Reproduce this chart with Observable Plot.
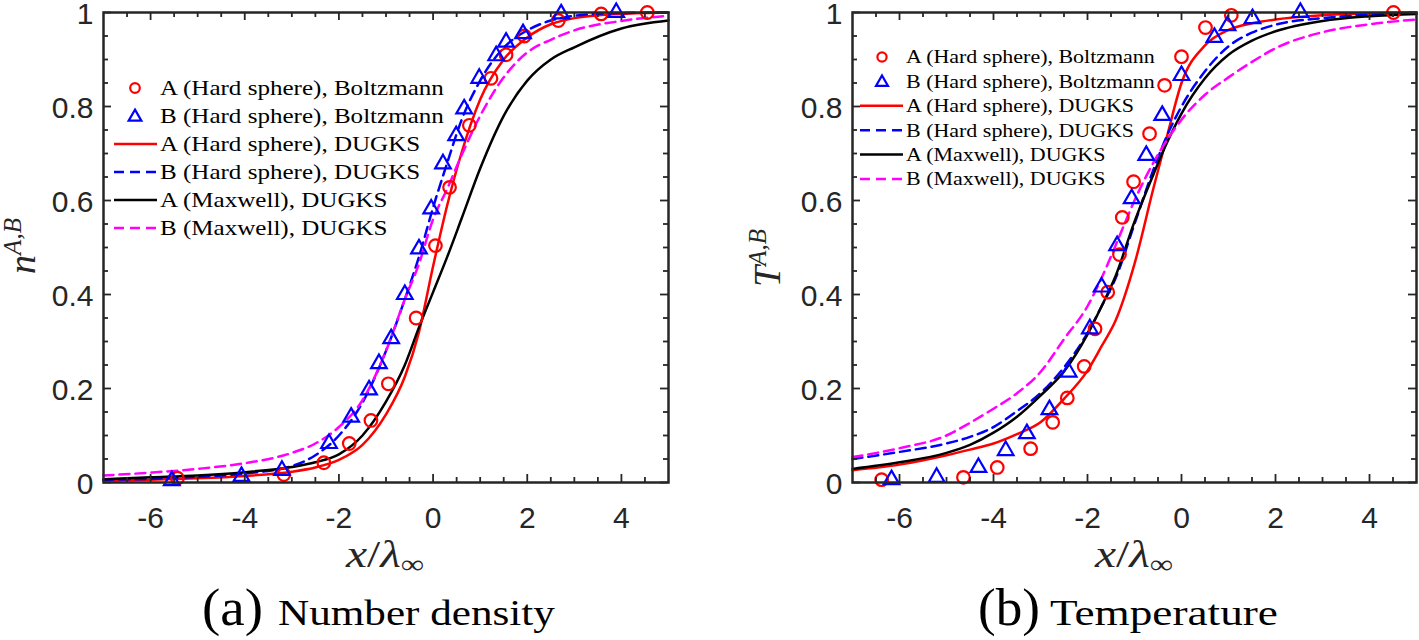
<!DOCTYPE html>
<html><head><meta charset="utf-8">
<script src="https://cdn.jsdelivr.net/npm/d3@7"></script>
<script src="https://cdn.jsdelivr.net/npm/@observablehq/plot@0.6"></script>
<style>
html,body{margin:0;padding:0;background:#fff;}
#page{position:relative;width:1419px;height:640px;overflow:hidden;background:#fff;}
#left{position:absolute;left:0;top:0;}
#right{position:absolute;left:710px;top:0;}
#overlay{position:absolute;left:0;top:0;}
</style></head>
<body><div id="page"><div id="left"></div><div id="right"></div><svg id="overlay" width="1419" height="640"></svg></div>
<script>
// ---------- tick labels ----------
const xMajor = [-6, -4, -2, 0, 2, 4];
const yMajor = [0, 0.2, 0.4, 0.6, 0.8, 1];
const xDomain = [-7, 5];
const yDomain = [0, 1];

// ---------- legend ----------
const legendLabels = ["A (Hard sphere), Boltzmann", "B (Hard sphere), Boltzmann", "A (Hard sphere), DUGKS",
  "B (Hard sphere), DUGKS", "A (Maxwell), DUGKS", "B (Maxwell), DUGKS"];

// ---------- (a) number density ----------
const nCircX = [-5.43, -3.17, -2.32, -1.78, -1.32, -0.95, -0.36, 0.05, 0.35, 0.77, 1.23, 1.55, 1.94, 2.66, 3.57, 4.55];
const nCircY = [0.009, 0.017, 0.042, 0.083, 0.132, 0.21, 0.35, 0.504, 0.628, 0.76, 0.86, 0.91, 0.95, 0.983, 0.997, 1.0];
const nTriX = [-5.55, -4.07, -3.21, -2.21, -1.74, -1.36, -1.15, -0.89, -0.6, -0.3, -0.04, 0.21, 0.49, 0.66, 0.98, 1.34, 1.55, 1.91, 2.72, 3.89];
const nTriY = [0.004, 0.013, 0.026, 0.083, 0.139, 0.197, 0.253, 0.306, 0.40, 0.497, 0.582, 0.678, 0.738, 0.795, 0.86, 0.908, 0.937, 0.955, 0.997, 1.0];
const nLineX = [-7, -6, -5, -4, -3, -2.5, -2, -1.5, -1, -0.6, -0.3, 0, 0.3, 0.6, 1, 1.5, 2, 2.5, 3, 4, 5];
const nA_HS = [0.004, 0.006, 0.009, 0.014, 0.023, 0.032, 0.048, 0.08, 0.145, 0.225, 0.32, 0.46, 0.59, 0.7, 0.815, 0.9, 0.947, 0.975, 0.988, 0.997, 1.0];
const nB_HS = [0.006, 0.008, 0.012, 0.019, 0.035, 0.058, 0.1, 0.17, 0.28, 0.39, 0.48, 0.585, 0.68, 0.77, 0.855, 0.925, 0.962, 0.983, 0.993, 0.999, 1.0];
const nA_MX = [0.007, 0.011, 0.015, 0.022, 0.033, 0.043, 0.06, 0.1, 0.172, 0.25, 0.33, 0.405, 0.48, 0.56, 0.668, 0.78, 0.855, 0.9, 0.926, 0.966, 0.983];
const nB_MX = [0.015, 0.021, 0.029, 0.041, 0.063, 0.083, 0.118, 0.175, 0.28, 0.39, 0.465, 0.56, 0.625, 0.695, 0.78, 0.862, 0.915, 0.942, 0.962, 0.982, 0.993];

// ---------- (b) temperature ----------
const tCircX = [-6.38, -4.64, -3.92, -3.21, -2.74, -2.43, -2.07, -1.84, -1.57, -1.32, -1.26, -1.02, -0.68, -0.36, 0, 0.51, 1.06, 4.51];
const tCircY = [0.006, 0.011, 0.032, 0.072, 0.128, 0.18, 0.247, 0.327, 0.405, 0.485, 0.564, 0.64, 0.742, 0.845, 0.906, 0.968, 0.994, 1.0];
const tTriX = [-6.17, -5.21, -4.32, -3.74, -3.29, -2.81, -2.4, -1.95, -1.7, -1.37, -1.06, -0.75, -0.41, 0, 0.70, 0.98, 1.51, 2.53];
const tTriY = [0.006, 0.011, 0.032, 0.068, 0.104, 0.155, 0.235, 0.327, 0.416, 0.504, 0.604, 0.696, 0.781, 0.866, 0.947, 0.972, 0.987, 1.0];
const tLineX = [-7, -6, -5, -4.5, -4, -3.5, -3, -2.5, -2, -1.7, -1.4, -1, -0.6, -0.3, 0, 0.5, 1, 1.5, 2, 3, 4, 5];
const tA_HS = [0.026, 0.038, 0.058, 0.07, 0.083, 0.103, 0.128, 0.178, 0.238, 0.29, 0.345, 0.465, 0.625, 0.74, 0.85, 0.93, 0.963, 0.977, 0.985, 0.994, 0.998, 1.0];
const tB_HS = [0.05, 0.065, 0.083, 0.097, 0.118, 0.152, 0.19, 0.245, 0.318, 0.375, 0.435, 0.55, 0.665, 0.74, 0.8, 0.875, 0.928, 0.957, 0.974, 0.988, 0.995, 0.998];
const tA_MX = [0.029, 0.043, 0.063, 0.08, 0.106, 0.14, 0.185, 0.236, 0.315, 0.375, 0.44, 0.555, 0.655, 0.725, 0.785, 0.86, 0.91, 0.94, 0.96, 0.982, 0.992, 0.997];
const tB_MX = [0.054, 0.073, 0.1, 0.127, 0.157, 0.19, 0.235, 0.305, 0.375, 0.435, 0.505, 0.6, 0.68, 0.73, 0.772, 0.825, 0.862, 0.895, 0.924, 0.958, 0.975, 0.985];

// ---------- styling ----------
const RED = "#ff0000", BLUE = "#0000ff", BLACK = "#000000", MAGENTA = "#ff00ff", AX = "#262626";
const DASH = "10,6";
const seriesStyle = [
  {type: "circle", color: RED}, {type: "triangle", color: BLUE},
  {type: "line", color: RED, dash: null}, {type: "line", color: BLUE, dash: DASH},
  {type: "line", color: BLACK, dash: null}, {type: "line", color: MAGENTA, dash: DASH}
];

const zip = (xs, ys) => xs.map((x, i) => ({x, y: ys[i]}));

function panel({lineX, lines, circX, circY, triX, triY, width, marginLeft, marginRight}) {
  const height = 540, marginTop = 12, marginBottom = 58;
  const pw = width - marginLeft - marginRight, ph = height - marginTop - marginBottom;
  const kx = (xDomain[1] - xDomain[0]) / pw, ky = (yDomain[1] - yDomain[0]) / ph;
  const xMinor = d3.range(-6.5, 5, 0.5).filter(v => !xMajor.includes(v));
  const yMinor = d3.range(1, 20).filter(i => i % 4 !== 0).map(i => i * 0.05);
  const tickStyle = {stroke: AX, strokeWidth: 1.8};
  return Plot.plot({
    width, height, marginLeft, marginRight, marginTop, marginBottom,
    x: {domain: xDomain}, y: {domain: yDomain},
    style: {fontFamily: "Liberation Sans, Arial, sans-serif", fontSize: "30px", background: "transparent", overflow: "visible"},
    marks: [
      ...lines.map(l => Plot.line(zip(lineX, l.y), {x: "x", y: "y", stroke: l.color, strokeWidth: 2.5,
        strokeDasharray: l.dash || undefined, curve: "monotone-x"})),
      Plot.dot(zip(circX, circY), {x: "x", y: "y", r: 6.3, stroke: RED, strokeWidth: 2.2, fill: "none"}),
      Plot.dot(zip(triX, triY), {x: "x", y: "y", r: 5.8, symbol: "triangle", stroke: BLUE, strokeWidth: 2.2, fill: "none"}),
      Plot.ruleX(xMinor, {x: d => d, y1: yDomain[0], y2: yDomain[0] + 5 * ky, ...tickStyle}),
      Plot.ruleX(xMajor, {x: d => d, y1: yDomain[0], y2: yDomain[0] + 8 * ky, ...tickStyle}),
      Plot.ruleX(xMinor, {x: d => d, y1: yDomain[1], y2: yDomain[1] - 5 * ky, ...tickStyle}),
      Plot.ruleX(xMajor, {x: d => d, y1: yDomain[1], y2: yDomain[1] - 8 * ky, ...tickStyle}),
      Plot.ruleY(yMinor, {y: d => d, x1: xDomain[0], x2: xDomain[0] + 5 * kx, ...tickStyle}),
      Plot.ruleY(yMajor, {y: d => d, x1: xDomain[0], x2: xDomain[0] + 8 * kx, ...tickStyle}),
      Plot.ruleY(yMinor, {y: d => d, x1: xDomain[1], x2: xDomain[1] - 5 * kx, ...tickStyle}),
      Plot.ruleY(yMajor, {y: d => d, x1: xDomain[1], x2: xDomain[1] - 8 * kx, ...tickStyle}),
      Plot.frame({stroke: AX, strokeWidth: 2.5}),
      Plot.axisX({ticks: xMajor, tickSize: 0, tickPadding: 24, tickFormat: d => String(d), fontSize: 30, fill: AX, label: null}),
      Plot.axisY({ticks: yMajor, tickSize: 0, tickPadding: 10, dy: 2, tickFormat: d => String(d), fontSize: 30, fill: AX, label: null})
    ]
  });
}

document.getElementById("left").append(panel({
  lineX: nLineX,
  lines: [{y: nA_HS, color: RED}, {y: nB_HS, color: BLUE, dash: DASH}, {y: nA_MX, color: BLACK}, {y: nB_MX, color: MAGENTA, dash: DASH}],
  circX: nCircX, circY: nCircY, triX: nTriX, triY: nTriY,
  width: 710, marginLeft: 103, marginRight: 42
}));
document.getElementById("right").append(panel({
  lineX: tLineX,
  lines: [{y: tA_HS, color: RED}, {y: tB_HS, color: BLUE, dash: DASH}, {y: tA_MX, color: BLACK}, {y: tB_MX, color: MAGENTA, dash: DASH}],
  circX: tCircX, circY: tCircY, triX: tTriX, triY: tTriY,
  width: 709, marginLeft: 142, marginRight: 3
}));

// ---------- overlay: legends, axis labels, captions ----------
const ov = d3.select("#overlay");
const SERIF = "Liberation Serif, serif";

// horizontally stretch a text (anchored at its own origin) so it spans `target` px
function fit(sel, x, y, target, extra = "") {
  const w = sel.node().getComputedTextLength();
  const sx = target / w;
  sel.attr("transform", `translate(${x},${y}) ${extra} scale(${sx},1)`);
  return sx;
}

function legend({x0, x1, cx, textX, y0, dy, fontSize, r, triSize, firstWidth}) {
  const g = ov.append("g");
  let sx = null;
  legendLabels.forEach((lab, i) => {
    const y = y0 + i * dy, s = seriesStyle[i];
    if (s.type === "circle") {
      g.append("circle").attr("cx", cx).attr("cy", y).attr("r", r)
        .attr("fill", "none").attr("stroke", s.color).attr("stroke-width", 2.2);
    } else if (s.type === "triangle") {
      g.append("path").attr("d", d3.symbol(d3.symbolTriangle, triSize)())
        .attr("transform", `translate(${cx},${y + 1})`)
        .attr("fill", "none").attr("stroke", s.color).attr("stroke-width", 2.2);
    } else {
      g.append("line").attr("x1", x0).attr("x2", x1).attr("y1", y).attr("y2", y)
        .attr("stroke", s.color).attr("stroke-width", 2.5)
        .attr("stroke-dasharray", s.dash);
    }
    const t = g.append("text").attr("dominant-baseline", "central")
      .style("font-family", SERIF).attr("font-size", fontSize).attr("fill", "#000").text(lab);
    if (sx === null) sx = fit(t, textX, y, firstWidth);
    else t.attr("transform", `translate(${textX},${y}) scale(${sx},1)`);
  });
}
legend({x0: 114, x1: 157, cx: 135, textX: 160, y0: 88, dy: 28, fontSize: 21, r: 4.8, triSize: 70, firstWidth: 284});
legend({x0: 860, x1: 903, cx: 882, textX: 906, y0: 57, dy: 24.4, fontSize: 18.5, r: 4.6, triSize: 62, firstWidth: 249});

function xLabel(cx) {
  const t = ov.append("text").attr("text-anchor", "middle")
    .style("font-family", SERIF).attr("font-size", 38).attr("fill", AX);
  t.append("tspan").attr("font-style", "italic").text("x");
  t.append("tspan").text("/");
  t.append("tspan").attr("font-style", "italic").text("λ");
  t.append("tspan").attr("font-size", 26).attr("dy", 6).text("∞");
  fit(t, cx, 567, 78);
}
xLabel(385);
xLabel(1134);

function yLabel(x, y, sym) {
  const t = ov.append("text").attr("transform", `translate(${x},${y}) rotate(-90)`).attr("text-anchor", "middle")
    .style("font-family", SERIF).attr("font-size", 38).attr("fill", AX);
  t.append("tspan").attr("font-style", "italic").text(sym);
  t.append("tspan").attr("font-style", "italic").attr("font-size", 25).attr("dy", -14).text("A,B");
}
yLabel(35, 246, "n");
yLabel(780, 258, "T");

function caption(x1, letter, w1, x2, title, w2) {
  const a = ov.append("text").style("font-family", SERIF).attr("font-size", 52).attr("fill", "#000").text(letter);
  fit(a, x1, 625, w1);
  const b = ov.append("text").style("font-family", SERIF).attr("font-size", 36).attr("fill", "#000").text(title);
  fit(b, x2, 625, w2);
}
caption(202, "(a)", 61, 278, "Number density", 277);
caption(978, "(b)", 62, 1050, "Temperature", 228);
</script>
</body></html>
